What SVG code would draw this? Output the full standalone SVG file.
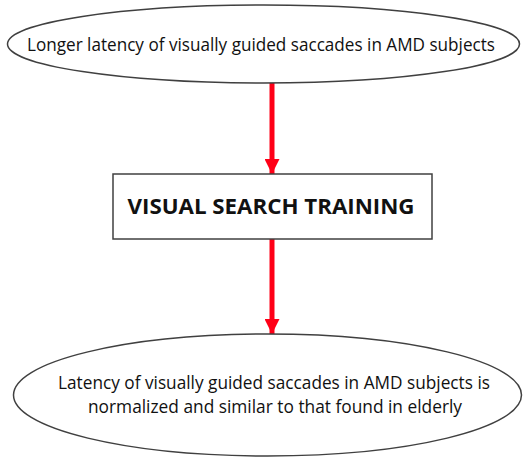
<svg xmlns="http://www.w3.org/2000/svg" width="525" height="462" viewBox="0 0 525 462">
<defs>
<style>
.shape{fill:#fff;stroke:#404040;stroke-width:1.5}
.t{font-family:"Open Sans","Liberation Sans",sans-serif;fill:#111;text-anchor:middle}
.conn{stroke:#ff0017;stroke-width:5;fill:none}
</style>
<marker id="ah" markerWidth="3" markerHeight="3" refX="3" refY="1.5" orient="auto" markerUnits="strokeWidth" viewBox="0 0 3 3">
<path d="M0,0 L3,1.5 L0,3 z" fill="#ff0017"/>
</marker>
</defs>
<rect width="525" height="462" fill="#fff"/>
<g id="connectors">
<line class="conn" x1="272" y1="83" x2="272" y2="174" marker-end="url(#ah)"/>
<line class="conn" x1="272" y1="239" x2="272" y2="334" marker-end="url(#ah)"/>
</g>
<g id="node1">
<ellipse class="shape" cx="263.5" cy="44" rx="256" ry="39"/>
<text class="t" x="261" y="51" font-size="18" textLength="468" lengthAdjust="spacingAndGlyphs">Longer latency of visually guided saccades in AMD subjects</text>
</g>
<g id="node2">
<rect class="shape" x="113" y="174" width="319" height="65"/>
<text class="t" x="271" y="213.5" font-size="21" font-weight="bold" textLength="287" lengthAdjust="spacingAndGlyphs">VISUAL SEARCH TRAINING</text>
</g>
<g id="node3">
<ellipse class="shape" cx="267.5" cy="395" rx="254" ry="61"/>
<text class="t" x="274" y="389" font-size="18" textLength="432" lengthAdjust="spacingAndGlyphs">Latency of visually guided saccades in AMD subjects is</text>
<text class="t" x="275" y="413" font-size="18" textLength="374" lengthAdjust="spacingAndGlyphs">normalized and similar to that found in elderly</text>
</g>
</svg>
